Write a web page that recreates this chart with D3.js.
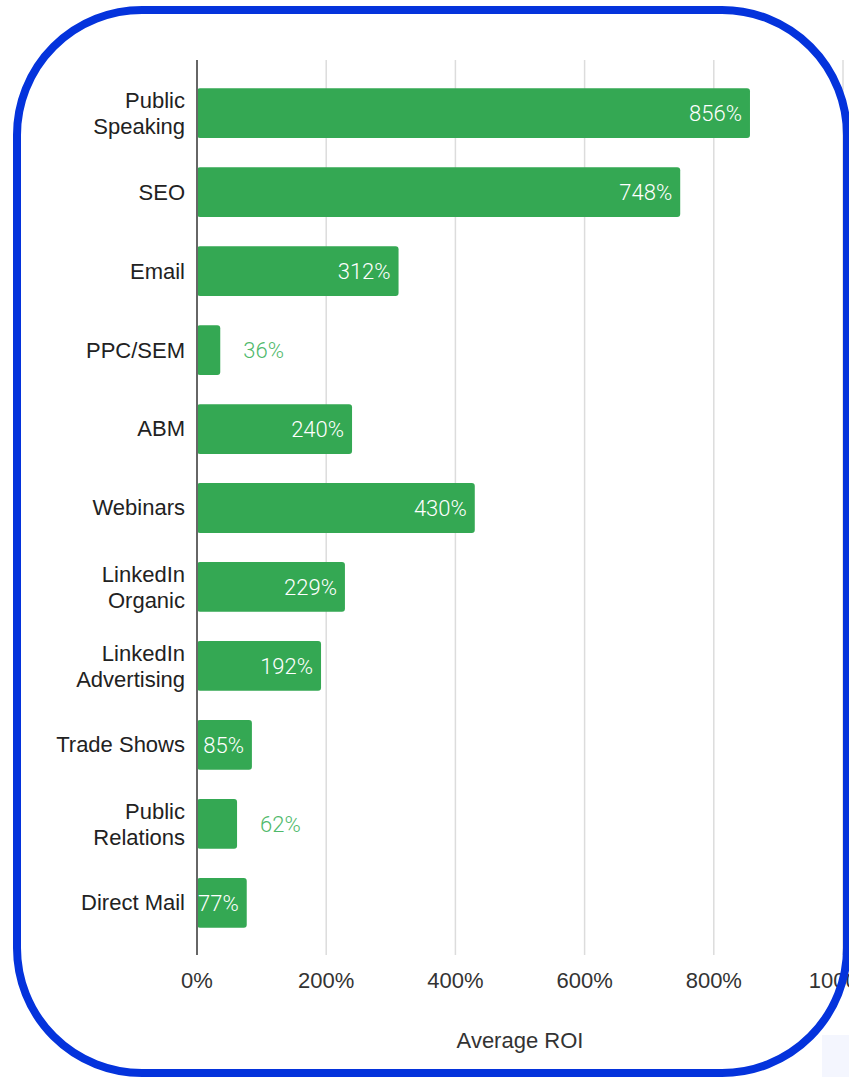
<!DOCTYPE html>
<html>
<head>
<meta charset="utf-8">
<script src="https://cdn.jsdelivr.net/npm/d3@7.9.0/dist/d3.min.js"></script>
<style>
  html, body { margin: 0; padding: 0; background: #fff; overflow: hidden; }
  svg { display: block; }
</style>
</head>
<body>
<div id="chart"></div>
<script>
// Channel ROI data
const channels = [
  ["Public", "Speaking"],
  ["SEO"],
  ["Email"],
  ["PPC/SEM"],
  ["ABM"],
  ["Webinars"],
  ["LinkedIn", "Organic"],
  ["LinkedIn", "Advertising"],
  ["Trade Shows"],
  ["Public", "Relations"],
  ["Direct Mail"],
];
const roi = [856, 748, 312, 36, 240, 430, 229, 192, 85, 62, 77];
const xTicks = [0, 200, 400, 600, 800, 1000];
const axisTitle = "Average ROI";

const width = 849;
const height = 1077;
const green = "#34a853";
const font = "Liberation Sans, Arial, sans-serif";

const svg = d3
  .select("#chart")
  .append("svg")
  .attr("width", width)
  .attr("height", height);

// faint shadow in bottom-right corner
svg
  .append("rect")
  .attr("x", 822)
  .attr("y", 1035)
  .attr("width", 40)
  .attr("height", 60)
  .attr("fill", "#f4f6fe");

svg
  .append("rect")
  .attr("x", 17)
  .attr("y", 10)
  .attr("width", 830)
  .attr("height", 1063)
  .attr("rx", 125)
  .attr("fill", "#fff");

const rows = channels.map((c, i) => ({ key: i, lines: c, value: roi[i] }));

const xScale = d3.scaleLinear().domain([0, 1000]).range([197, 843]);
const yScale = d3
  .scaleBand()
  .domain(rows.map((d) => d.key))
  .range([74, 942])
  .paddingInner(0.37)
  .paddingOuter(0.18);

// gridlines
svg
  .append("g")
  .attr("class", "gridlines")
  .selectAll("line")
  .data(xTicks.slice(1))
  .join("line")
  .attr("x1", (d) => xScale(d))
  .attr("x2", (d) => xScale(d))
  .attr("y1", 60)
  .attr("y2", 955)
  .attr("stroke", "#dcdcdc")
  .attr("stroke-width", 1.5);

// bars
svg
  .append("g")
  .selectAll("rect")
  .data(rows)
  .join("rect")
  .attr("x", xScale(0))
  .attr("y", (d) => yScale(d.key))
  .attr("width", (d) => xScale(d.value) - xScale(0))
  .attr("height", yScale.bandwidth())
  .attr("rx", 3)
  .attr("fill", green);

// baseline
svg
  .append("line")
  .attr("x1", xScale(0))
  .attr("x2", xScale(0))
  .attr("y1", 60)
  .attr("y2", 955)
  .attr("stroke", "#666")
  .attr("stroke-width", 2);

// value labels
svg
  .append("g")
  .selectAll("text")
  .data(rows)
  .join("text")
  .attr("font-family", "Roboto, sans-serif")
  .attr("font-weight", 300)
  .attr("font-size", 22)
  .attr("dy", "0.35em")
  .attr("y", (d) => yScale(d.key) + yScale.bandwidth() / 2)
  .each(function (d) {
    const w = xScale(d.value) - xScale(0);
    const sel = d3.select(this).text(d.value + "%");
    if (w > 45) {
      sel
        .attr("x", xScale(d.value) - 8)
        .attr("text-anchor", "end")
        .attr("fill", "#fff");
    } else {
      sel
        .attr("x", xScale(d.value) + 23)
        .attr("text-anchor", "start")
        .attr("fill", "#4fb96b");
    }
  });

// category labels
const cats = svg
  .append("g")
  .attr("font-family", font)
  .attr("font-size", 22)
  .attr("fill", "#222")
  .attr("text-anchor", "end")
  .selectAll("text")
  .data(rows)
  .join("text")
  .attr("x", 185)
  .attr("y", (d) => yScale(d.key) + yScale.bandwidth() / 2);

cats
  .selectAll("tspan")
  .data((d) => d.lines.map((l, i) => ({ l, i, n: d.lines.length })))
  .join("tspan")
  .attr("x", 185)
  .attr("dy", (t) =>
    t.i === 0 ? (t.n === 1 ? "0.34em" : "-0.23em") : "1.18em",
  )
  .text((t) => t.l);

// x axis tick labels
svg
  .append("g")
  .attr("font-family", font)
  .attr("font-size", 22)
  .attr("fill", "#333")
  .attr("text-anchor", "middle")
  .selectAll("text")
  .data(xTicks)
  .join("text")
  .attr("x", (d) => xScale(d))
  .attr("y", 988)
  .text((d) => d + "%");

svg
  .append("text")
  .attr("x", 520)
  .attr("y", 1048)
  .attr("text-anchor", "middle")
  .attr("font-family", font)
  .attr("font-size", 22)
  .attr("fill", "#333")
  .text(axisTitle);

// blue rounded frame
svg
  .append("rect")
  .attr("x", 17)
  .attr("y", 10)
  .attr("width", 830)
  .attr("height", 1063)
  .attr("rx", 125)
  .attr("fill", "none")
  .attr("stroke", "#0433dc")
  .attr("stroke-width", 8);
</script>
</body>
</html>
